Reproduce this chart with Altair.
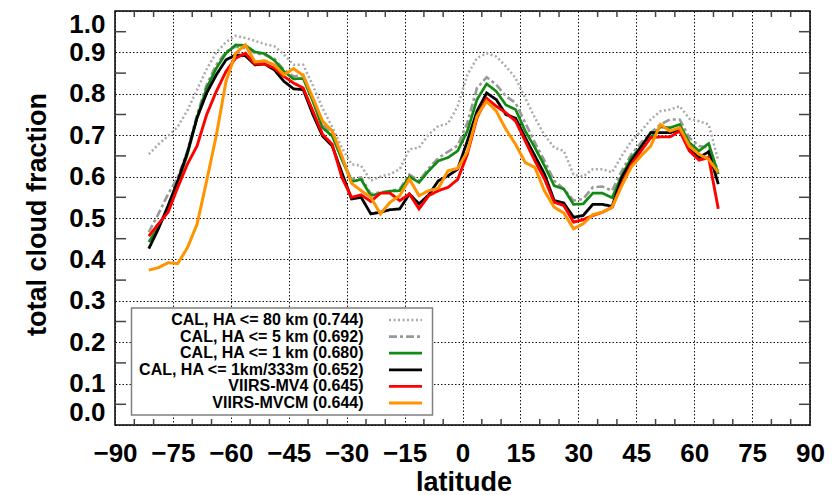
import altair as alt
import pandas as pd

# Latitude bin centres (2.5 degree bins)
LATITUDE = [-81.25, -78.75, -76.25, -73.75, -71.25, -68.75, -66.25, -63.75, -61.25, -58.75,
            -56.25, -53.75, -51.25, -48.75, -46.25, -43.75, -41.25, -38.75, -36.25, -33.75,
            -31.25, -28.75, -26.25, -23.75, -21.25, -18.75, -16.25, -13.75, -11.25, -8.75,
            -6.25, -3.75, -1.25, 1.25, 3.75, 6.25, 8.75, 11.25, 13.75, 16.25,
            18.75, 21.25, 23.75, 26.25, 28.75, 31.25, 33.75, 36.25, 38.75, 41.25,
            43.75, 46.25, 48.75, 51.25, 53.75, 56.25, 58.75, 61.25, 63.75, 66.25]

CAL_80KM = [0.654, 0.678, 0.698, 0.720, 0.760, 0.810, 0.860, 0.900, 0.925, 0.940,
            0.935, 0.928, 0.920, 0.915, 0.895, 0.870, 0.870, 0.820, 0.765, 0.720,
            0.670, 0.630, 0.626, 0.590, 0.600, 0.606, 0.618, 0.666, 0.670, 0.702,
            0.722, 0.728, 0.770, 0.846, 0.886, 0.898, 0.890, 0.866, 0.838, 0.790,
            0.742, 0.700, 0.670, 0.662, 0.605, 0.600, 0.618, 0.618, 0.610, 0.650,
            0.686, 0.710, 0.738, 0.758, 0.762, 0.770, 0.740, 0.734, 0.726, 0.638]

CAL_5KM = [0.466, 0.510, 0.558, 0.598, 0.662, 0.750, 0.822, 0.870, 0.902, 0.914,
           0.910, 0.898, 0.894, 0.885, 0.858, 0.842, 0.846, 0.786, 0.726, 0.702,
           0.642, 0.594, 0.598, 0.558, 0.562, 0.565, 0.570, 0.605, 0.590, 0.620,
           0.645, 0.660, 0.675, 0.730, 0.814, 0.840, 0.822, 0.794, 0.778, 0.730,
           0.682, 0.638, 0.590, 0.570, 0.542, 0.546, 0.574, 0.576, 0.566, 0.614,
           0.654, 0.682, 0.706, 0.726, 0.738, 0.738, 0.694, 0.674, 0.670, 0.614]

CAL_1KM = [0.442, 0.478, 0.522, 0.582, 0.654, 0.742, 0.814, 0.862, 0.898, 0.918,
           0.917, 0.901, 0.897, 0.881, 0.854, 0.836, 0.837, 0.782, 0.718, 0.698,
           0.642, 0.588, 0.593, 0.554, 0.560, 0.565, 0.566, 0.600, 0.586, 0.614,
           0.638, 0.646, 0.662, 0.710, 0.786, 0.824, 0.806, 0.773, 0.762, 0.710,
           0.670, 0.626, 0.578, 0.570, 0.533, 0.534, 0.560, 0.560, 0.549, 0.602,
           0.646, 0.672, 0.694, 0.720, 0.718, 0.726, 0.682, 0.662, 0.680, 0.606]

CAL_1KM_333M = [0.426, 0.474, 0.530, 0.590, 0.658, 0.742, 0.802, 0.846, 0.882, 0.894,
                0.892, 0.870, 0.872, 0.858, 0.830, 0.812, 0.810, 0.750, 0.698, 0.674,
                0.610, 0.546, 0.550, 0.510, 0.514, 0.520, 0.522, 0.558, 0.534, 0.556,
                0.590, 0.602, 0.618, 0.686, 0.758, 0.802, 0.786, 0.750, 0.741, 0.694,
                0.650, 0.606, 0.542, 0.536, 0.502, 0.506, 0.533, 0.533, 0.528, 0.598,
                0.638, 0.672, 0.706, 0.706, 0.706, 0.714, 0.666, 0.646, 0.660, 0.582]

VIIRS_MV4 = [0.456, 0.486, 0.514, 0.574, 0.630, 0.674, 0.750, 0.806, 0.854, 0.886,
             0.898, 0.872, 0.872, 0.862, 0.842, 0.826, 0.814, 0.758, 0.702, 0.678,
             0.598, 0.550, 0.556, 0.540, 0.560, 0.560, 0.542, 0.558, 0.522, 0.554,
             0.566, 0.574, 0.593, 0.654, 0.742, 0.789, 0.770, 0.754, 0.734, 0.686,
             0.638, 0.594, 0.538, 0.530, 0.490, 0.496, 0.506, 0.514, 0.526, 0.582,
             0.630, 0.662, 0.694, 0.696, 0.696, 0.710, 0.662, 0.640, 0.646, 0.522]

VIIRS_MVCM = [0.374, 0.380, 0.392, 0.390, 0.428, 0.485, 0.590, 0.700, 0.830, 0.898,
              0.918, 0.877, 0.880, 0.870, 0.846, 0.861, 0.844, 0.790, 0.734, 0.710,
              0.650, 0.584, 0.566, 0.550, 0.510, 0.538, 0.554, 0.594, 0.554, 0.566,
              0.572, 0.614, 0.620, 0.660, 0.746, 0.782, 0.758, 0.714, 0.678, 0.634,
              0.622, 0.565, 0.526, 0.512, 0.474, 0.486, 0.508, 0.514, 0.526, 0.578,
              0.624, 0.650, 0.674, 0.726, 0.710, 0.718, 0.674, 0.654, 0.642, 0.610]

SERIES_LABELS = [
    "CAL, HA <= 80 km (0.744)",
    "CAL, HA <= 5 km (0.692)",
    "CAL, HA <= 1 km (0.680)",
    "CAL, HA <= 1km/333m (0.652)",
    "VIIRS-MV4 (0.645)",
    "VIIRS-MVCM (0.644)",
]
SERIES_VALUES = [CAL_80KM, CAL_5KM, CAL_1KM, CAL_1KM_333M, VIIRS_MV4, VIIRS_MVCM]
SERIES_COLORS = ["#aaaaaa", "#999999", "#138a13", "#000000", "#ff0000", "#ff9300"]
SERIES_DASHES = [[2, 2.5], [8, 3, 3, 3], [1, 0], [1, 0], [1, 0], [1, 0]]
SERIES_WIDTHS = [2.5, 3, 3, 3, 3, 3]

X_MAJOR = [-90, -75, -60, -45, -30, -15, 0, 15, 30, 45, 60, 75, 90]
Y_MAJOR = [0.0, 0.1, 0.2, 0.3, 0.4, 0.5, 0.6, 0.7, 0.8, 0.9, 1.0]
X_MINOR = [v for v in range(-85, 90, 5) if v % 15 != 0]
Y_MINOR = [0.05, 0.15, 0.25, 0.35, 0.45, 0.55, 0.65, 0.75, 0.85, 0.95]

W, H = 695, 414
FONT = "Liberation Sans"

rows = []
for label, vals in zip(SERIES_LABELS, SERIES_VALUES):
    for lat, v in zip(LATITUDE, vals):
        rows.append({"series": label, "lat": lat, "frac": v})
df = pd.DataFrame(rows)

xscale = alt.Scale(domain=[-90, 90], nice=False, zero=False)
yscale = alt.Scale(domain=[0, 1], nice=False, zero=False)

X_ENC = alt.X("lat:Q", scale=xscale, title="latitude",
              axis=alt.Axis(values=X_MAJOR, format="d", labelFlush=False,
                            titleX=348.5, titleY=65, titleBaseline="alphabetic",
                            titleAnchor="middle", labelPadding=15))
Y_ENC = alt.Y("frac:Q", scale=yscale, title="total cloud fraction",
              axis=alt.Axis(values=Y_MAJOR, format=".1f", labelFlush=True,
                            titleX=-70, titleY=203, titleBaseline="alphabetic",
                            labelPadding=10))

# labels sit to the left of the line samples
legend = alt.Legend(
    orient="none", legendX=16.5, legendY=297, title=None,
    symbolType="M-3.3,0L3.3,0", symbolSize=100, symbolStrokeWidth=3,
    symbolOffset=262, labelAlign="right", labelOffset={"expr": "-50"},
    labelFont=FONT, labelFontSize=16, labelFontWeight="bold", labelColor="black",
    labelLimit=400, padding=4, rowPadding=0.6,
    strokeColor="#808080", fillColor="white",
)

base = alt.Chart(df).mark_line(strokeJoin="miter").encode(
    x=X_ENC,
    y=Y_ENC,
    color=alt.Color("series:N", scale=alt.Scale(domain=SERIES_LABELS, range=SERIES_COLORS),
                    legend=legend),
    strokeDash=alt.StrokeDash("series:N", scale=alt.Scale(domain=SERIES_LABELS, range=SERIES_DASHES),
                              legend=legend),
    strokeWidth=alt.StrokeWidth("series:N", scale=alt.Scale(domain=SERIES_LABELS, range=SERIES_WIDTHS),
                                legend=None),
)

# one layer per series so the drawing order is fixed
line_layers = [base.transform_filter(alt.datum.series == s) for s in SERIES_LABELS]

# short inward minor ticks on all four sides of the frame
tick_color = "#444444"
xminor = pd.DataFrame({"lat": X_MINOR})
yminor = pd.DataFrame({"frac": Y_MINOR})

bottom_ticks = alt.Chart(xminor).mark_rule(color=tick_color, strokeWidth=1.5).encode(
    x=X_ENC, y=alt.value(H), y2=alt.value(H - 6))
top_ticks = alt.Chart(xminor).mark_rule(color=tick_color, strokeWidth=1.5).encode(
    x=X_ENC, y=alt.value(0), y2=alt.value(6))
left_ticks = alt.Chart(yminor).mark_rule(color=tick_color, strokeWidth=1.5).encode(
    y=Y_ENC, x=alt.value(0), x2=alt.value(11))
right_ticks = alt.Chart(yminor).mark_rule(color=tick_color, strokeWidth=1.5).encode(
    y=Y_ENC, x=alt.value(W - 11), x2=alt.value(W))

chart = alt.layer(
    *line_layers, bottom_ticks, top_ticks, left_ticks, right_ticks
).properties(
    width=W, height=H,
    autosize=alt.AutoSizeParams(type="none"),
    padding={"left": 115, "top": 11, "right": 22, "bottom": 70},
    background="white",
).configure_view(
    stroke="black", strokeWidth=1.5
).configure_axis(
    grid=True, gridColor="#111111", gridDash=[1.5, 2], gridWidth=1,
    ticks=False, domain=False,
    labelFont=FONT, labelFontSize=26, labelFontWeight="bold", labelColor="black",
    labelOverlap=False,
    titleFont=FONT, titleFontSize=27, titleFontWeight="bold", titleColor="black",
).configure_legend(
    strokeWidth=1.5
)

chart.save("out.html", embed_options={"renderer": "svg", "actions": False})
